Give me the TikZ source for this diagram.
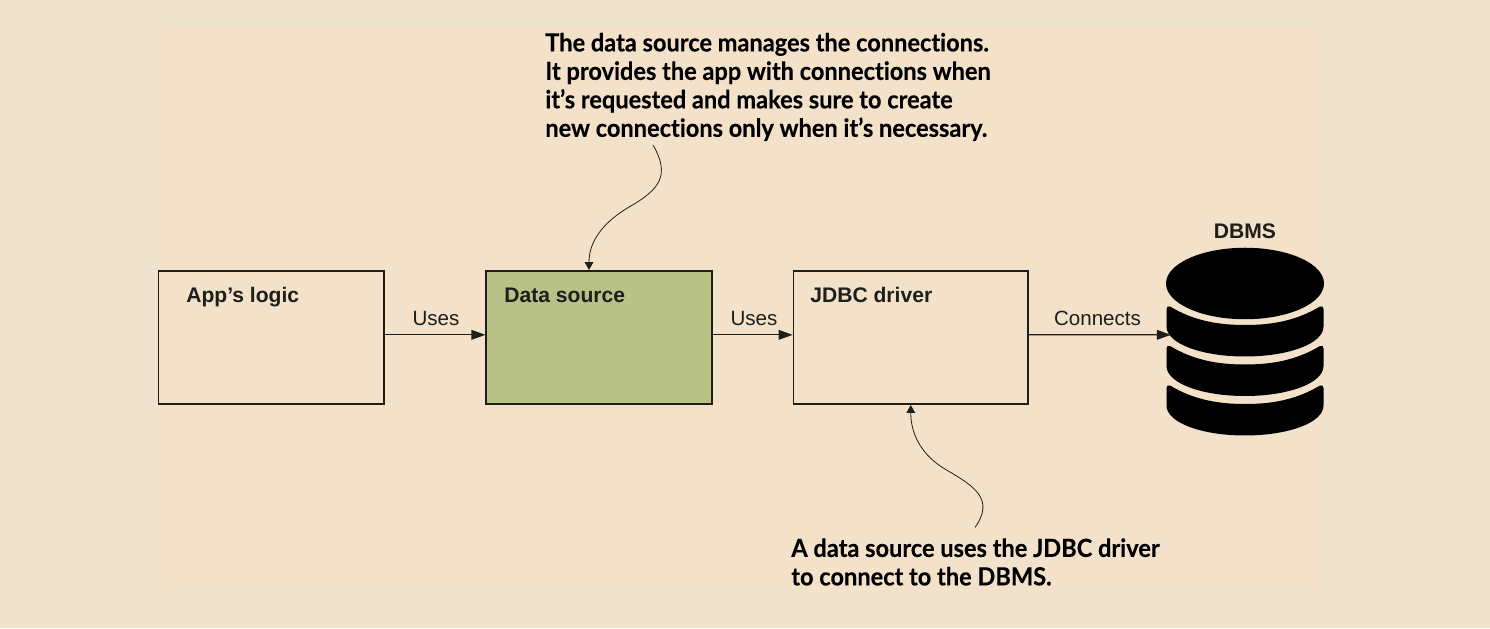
\documentclass[tikz,border=0pt]{standalone}
\usepackage{fontspec}
\setmainfont{Liberation Sans}
\newfontfamily\notefont[FakeStretch=.945,Ligatures=NoCommon,BoldFeatures={FakeBold=.3}]{Lato}
\usetikzlibrary{arrows.meta,shapes.geometric}
\definecolor{pagebg}{HTML}{EFE3CD}
\definecolor{panelbg}{HTML}{F3E2C9}
\definecolor{datagreen}{HTML}{B8C287}
\definecolor{inkdark}{HTML}{1E1E1A}
\tikzset{
  box/.style={draw=inkdark,line width=.9pt,minimum width=#1,minimum height=2.67cm,inner sep=0},
  boxlabel/.style={anchor=base west,inner sep=0,font=\fontsize{12}{14}\selectfont\bfseries,text=inkdark},
  edgelabel/.style={anchor=base,inner sep=0,font=\fontsize{11.7}{14}\selectfont,text=inkdark},
  note/.style={anchor=north west,inner sep=0,align=left,text=black,font=\fontsize{14.2}{16.2}\selectfont\notefont\bfseries},
  uses/.style={draw=inkdark,line width=.7pt,-{Triangle[length=8pt,width=5.5pt]}},
  pointer/.style={draw=inkdark,line width=.45pt,-{Triangle[length=4.5pt,width=5pt]}},
}
\begin{document}
\begin{tikzpicture}
\fill[pagebg](0,0)rectangle(29.8,12.56);
\fill[panelbg](3.16,.76)rectangle(26.44,12);
\useasboundingbox(0,0)rectangle(29.8,12.56);
% boxes
\node[box=4.51cm](app)at(5.425,5.81){};
\node[box=4.51cm,fill=datagreen](data)at(11.98,5.81){};
\node[box=4.69cm](jdbc)at(18.215,5.81){};
\node[boxlabel](applabel)at(3.72,6.5){App’s logic};
\node[boxlabel](datalabel)at(10.08,6.5){Data source};
\node[boxlabel](jdbclabel)at(16.2,6.5){JDBC driver};
% database
\foreach\y in {6.06,5.27,4.48}{
\fill[black,shift={(24.9,\y)}](-1.5,.37)
  .. controls (-1,.07) and (-.5,0) .. (0,0)
  .. controls (.5,0) and (1,.07) .. (1.5,.37)
  .. controls (1.54,.39) and (1.57,.36) .. (1.57,.32)
  -- (1.57,-.03)
  .. controls (1.57,-.38) and (.85,-.63) .. (0,-.63)
  .. controls (-.85,-.63) and (-1.57,-.38) .. (-1.57,-.03)
  -- (-1.57,.32)
  .. controls (-1.57,.36) and (-1.54,.39) .. (-1.5,.37) -- cycle;
}
\node[fill=black,draw=none,ellipse,minimum width=3.16cm,minimum height=1.43cm,inner sep=0](disk)at(24.9,6.89){};
\node[edgelabel,font=\fontsize{12}{14}\selectfont\bfseries](dbms)at(24.9,7.78){DBMS};
\coordinate(dbin)at(23.42,5.863);
% arrows
\draw[uses]([yshift=1.5pt]app.east)--([yshift=1.5pt]data.west);
\draw[uses]([yshift=1.5pt]data.east)--([yshift=1.5pt]jdbc.west);
\draw[uses]([yshift=1.5pt]jdbc.east)--(dbin);
\node[edgelabel](uses1)at(8.72,6.05){Uses};
\node[edgelabel](uses2)at(15.08,6.05){Uses};
\node[edgelabel](connects)at(21.95,6.05){Connects};
% notes
\node[note](topnote)at(10.9,11.91){The data source manages the connections.\\It provides the app with connections when\\it’s requested and makes sure to create\\new connections only when it’s necessary.};
\node[note](botnote)at(15.82,1.8){A data source uses the JDBC driver\\to connect to the DBMS.};
\coordinate(topstart)at(13.06,9.66);
\coordinate(topmid)at(12.6,8.43);
\coordinate(botstart)at(19.5,2.01);
\coordinate(botmid)at(18.93,3.16);
\draw[pointer](topstart)to[out=-60,in=30,looseness=1.35](topmid)to[out=210,in=90]([xshift=-.2cm]data.north);
\draw[pointer](botstart)to[out=55,in=-30,looseness=1.35](botmid)to[out=150,in=-90](jdbc.south);
\end{tikzpicture}
\end{document}
